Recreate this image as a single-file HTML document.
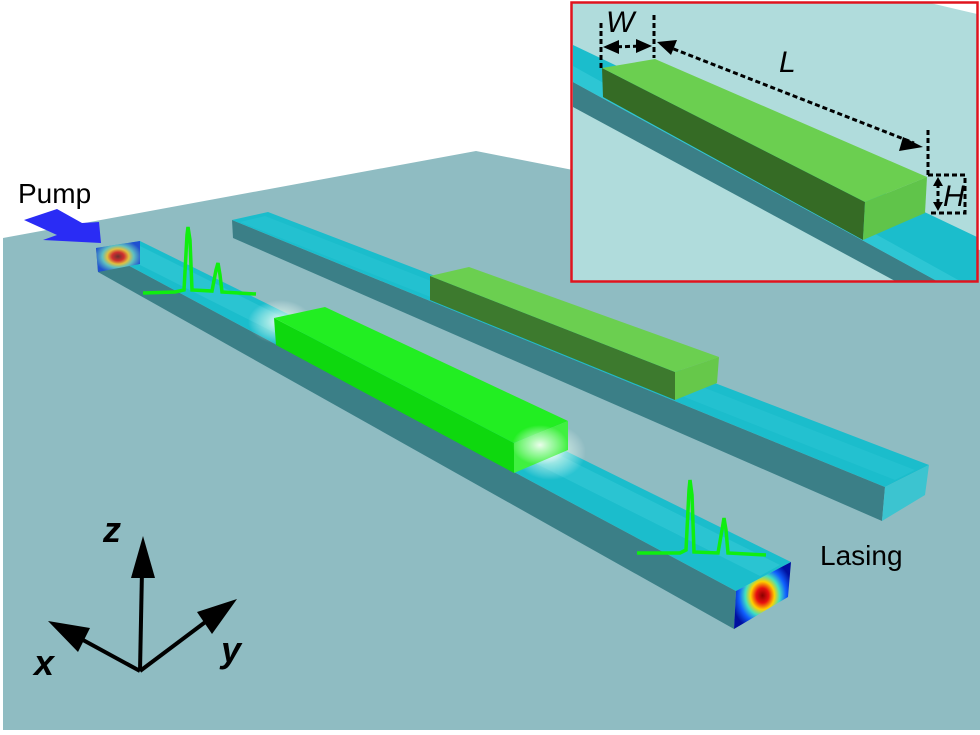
<!DOCTYPE html>
<html><head><meta charset="utf-8"><style>
html,body{margin:0;padding:0;background:#fff;}
svg{display:block}
text{font-family:"Liberation Sans",sans-serif;}
</style></head><body>
<svg width="980" height="735" viewBox="0 0 980 735" xmlns="http://www.w3.org/2000/svg">
<defs>
<radialGradient id="mode" cx="50%" cy="50%" r="55%">
<stop offset="0" stop-color="#8a0000"/><stop offset="0.2" stop-color="#e81010"/><stop offset="0.38" stop-color="#ffd000"/><stop offset="0.55" stop-color="#40e0c0"/><stop offset="0.75" stop-color="#1060ff"/><stop offset="1" stop-color="#0010a0"/>
</radialGradient>
<radialGradient id="mode2" cx="50%" cy="50%" r="55%">
<stop offset="0" stop-color="#6a3030"/><stop offset="0.25" stop-color="#d03030"/><stop offset="0.45" stop-color="#e0c040"/><stop offset="0.65" stop-color="#60c0c0"/><stop offset="1" stop-color="#2050d0"/>
</radialGradient>
<radialGradient id="glow" cx="50%" cy="50%" r="50%">
<stop offset="0" stop-color="#ffffff" stop-opacity="0.9"/><stop offset="0.5" stop-color="#e8fff0" stop-opacity="0.5"/><stop offset="1" stop-color="#ffffff" stop-opacity="0"/>
</radialGradient>
</defs>
<polygon points="3,238 476,151 980,250 980,730 3,730" fill="#8fbcc2"/>
<!-- back waveguide -->
<polygon points="232,220 233,238 882,521 885,487" fill="#3b7f87"/>
<polygon points="232,220 268,212 929,465 885,487" fill="#1bbdcc"/>
<polygon points="240,222 265,216 915,470 895,480" fill="#2bc6d4" opacity="0.5"/>
<polygon points="885,487 929,465 925,495 882,521" fill="#3cc4d0"/>
<!-- back green block -->
<polygon points="430,276 675,372 675,400 430,300" fill="#3d7a2e"/>
<polygon points="430,276 469,267 719,357 675,372" fill="#6bcf50"/>
<polygon points="675,372 719,357 717,383 675,400" fill="#66c84a"/>
<!-- front waveguide -->
<polygon points="96,248 98,272 734,629 736,591" fill="#3b7f87"/>
<polygon points="96,248 140,241 791,562 736,591" fill="#1bbdcc"/>
<polygon points="110,250 138,245 780,565 760,576" fill="#3acbd8" opacity="0.5"/>
<polygon points="736,591 791,562 788,597 734,629" fill="url(#mode)"/>
<polygon points="96,248 140,241 140,264 98,272" fill="url(#mode2)"/>
<ellipse cx="280" cy="322" rx="32" ry="22" fill="url(#glow)"/>
<ellipse cx="550" cy="452" rx="36" ry="28" fill="url(#glow)"/>
<!-- front green block -->
<polygon points="274,318 514,443 514,473 276,345" fill="#0ed80e"/>
<polygon points="274,318 325,307 568,421 514,443" fill="#22ee22"/>
<polygon points="514,443 568,421 568,450 514,473" fill="#40f040"/>
<ellipse cx="540" cy="445" rx="28" ry="20" fill="url(#glow)"/>
<!-- pump arrow -->
<polygon points="24,220 57,209 82,223 99,222 101,243 43,240 57,235" fill="#2a2cf5"/>
<text x="18" y="203" font-size="28">Pump</text>
<polyline points="143,293 175,292 184,290 187,235 188,227 190,240 192,290 212,291 216,270 218,263 220,275 222,292 256,294" fill="none" stroke="#10ee10" stroke-width="3.5"/>
<polyline points="637,553 680,553 686,550 689,490 690,480 692,495 694,552 718,553 722,530 724,518 726,530 728,553 766,555" fill="none" stroke="#10ee10" stroke-width="3.5"/>
<text x="820" y="565" font-size="28">Lasing</text>
<!-- axes -->
<g stroke="#000" stroke-width="4" fill="none">
<line x1="140" y1="671" x2="142" y2="570"/>
<line x1="140" y1="671" x2="72" y2="634"/>
<line x1="140" y1="671" x2="212" y2="617"/>
</g>
<polygon points="143,536 131,578 155,578" fill="#000"/>
<polygon points="48,621 90,628 78,652" fill="#000"/>
<polygon points="237,599 197,612 212,634" fill="#000"/>
<g font-size="36" font-style="italic" font-weight="bold">
<text x="103" y="542">z</text>
<text x="34" y="675">x</text>
<text x="221" y="662">y</text>
</g>
<!-- inset -->
<rect x="572" y="3" width="405" height="278" fill="#b0dcdc"/>
<polygon points="930,3 977,3 977,14" fill="#fff"/>
<polygon points="573,82 573,107 895,281 937,281" fill="#3b7f87"/>
<polygon points="573,45 977,237 977,281 937,281 573,82" fill="#1bbdcc"/>
<polygon points="573,66 573,82 937,281 960,281" fill="#3acbd8" opacity="0.6"/>
<polygon points="602,68 865,202 863,240 603,97" fill="#356b25"/>
<polygon points="602,68 655,59 927,177 865,202" fill="#6bcf50"/>
<polygon points="865,202 927,177 925,213 863,240" fill="#60c44a"/>
<rect x="571.5" y="2.5" width="406" height="279" fill="none" stroke="#e0141e" stroke-width="2.5"/>
<g stroke="#000" stroke-width="3" stroke-dasharray="5,3" fill="none">
<line x1="601" y1="23" x2="601" y2="70"/>
<line x1="654" y1="15" x2="654" y2="58"/>
<line x1="928" y1="130" x2="928" y2="176"/>
<polyline points="928,175 965,175 965,213 930,213"/>
<line x1="609" y1="47" x2="646" y2="46"/>
<line x1="666" y1="46" x2="914" y2="143"/>
<line x1="938" y1="183" x2="938" y2="205"/>
</g>
<polygon points="603,47 619,40 619,54" fill="#000"/>
<polygon points="652,46 636,39 636,53" fill="#000"/>
<polygon points="657,42 677,40 671,55" fill="#000"/>
<polygon points="923,147 903,137 899,151" fill="#000"/>
<polygon points="938,177 933,186 943,186" fill="#000"/>
<polygon points="938,211 933,202 943,202" fill="#000"/>
<g font-size="30" font-style="italic">
<text x="606" y="32">W</text>
<text x="779" y="72">L</text>
<text x="943" y="206">H</text>
</g>
</svg>
</body></html>
